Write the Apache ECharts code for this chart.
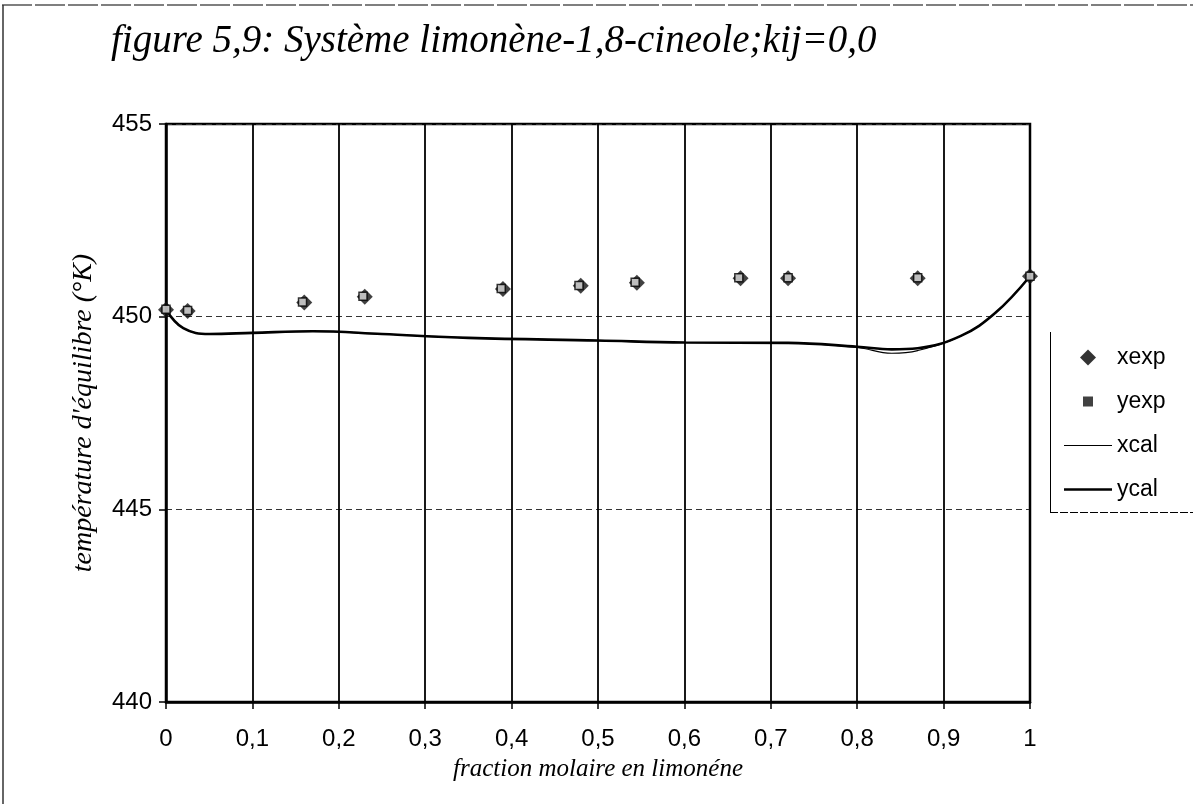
<!DOCTYPE html>
<html><head><meta charset="utf-8">
<script src="https://cdn.jsdelivr.net/npm/echarts@6/dist/echarts.min.js"></script>
<style>html,body{margin:0;padding:0;background:#fff}#c{width:1193px;height:804px}</style>
</head><body><div id="c"></div>
<script>
const titleText = "figure 5,9: Système limonène-1,8-cineole;kij=0,0";
const xName = "fraction molaire en limonéne";
const yName = "température d'équilibre (°K)";
const xexpX = [0, 0.025, 0.16, 0.23, 0.39, 0.48, 0.545, 0.665, 0.72, 0.87, 1.0];
const xexpY = [450.18, 450.15, 450.37, 450.52, 450.72, 450.8, 450.88, 451.0, 451.0, 451.0, 451.05];
const yexpX = [0, 0.025, 0.158, 0.228, 0.388, 0.478, 0.543, 0.663, 0.72, 0.87, 1.0];
const yexpY = [450.19, 450.16, 450.38, 450.53, 450.73, 450.81, 450.89, 451.01, 451.01, 451.01, 451.05];
const calX = [0, 0.02, 0.05, 0.1, 0.17, 0.25, 0.35, 0.5, 0.6, 0.72, 0.8, 0.84, 0.87, 0.92, 0.96, 1.0];
const xcalY = [450.18, 449.7, 449.55, 449.58, 449.62, 449.55, 449.45, 449.38, 449.33, 449.32, 449.2, 449.05, 449.12, 449.5, 450.1, 451.05];
const ycalY = [450.18, 449.7, 449.55, 449.58, 449.62, 449.55, 449.45, 449.38, 449.33, 449.32, 449.22, 449.15, 449.18, 449.5, 450.1, 451.05];
const pairs = (xs, ys) => xs.map((x, i) => [x, ys[i]]);

const chart = echarts.init(document.getElementById('c'));
chart.setOption({
  backgroundColor: '#fff',
  animation: false,
  title: {
    text: titleText, left: 106, top: 17,
    textStyle: {fontFamily: 'Liberation Serif', fontStyle: 'italic', fontWeight: 'normal', fontSize: 39, color: '#000'}
  },
  grid: {left: 166, right: 163, top: 124, bottom: 102, show: true, borderColor: '#000', borderWidth: 2.5, backgroundColor: 'transparent'},
  legend: {
    orient: 'vertical', left: 1050, top: 332, width: 140,
    padding: [14, 30, 10, 14], itemGap: 21, itemWidth: 48, itemHeight: 16,
    borderWidth: 0, backgroundColor: '#fff',
    textStyle: {fontFamily: 'Liberation Sans', fontSize: 23, color: '#000'},
    data: [
      {name: 'xexp', icon: 'path://M8,0 L16,8 L8,16 L0,8 Z', itemStyle: {color: '#000'}},
      {name: 'yexp', icon: 'path://M0,0 L0.01,0 L0.01,0.01 Z M16,16 L15.99,16 L15.99,15.99 Z M3,3 L13,3 L13,13 L3,13 Z',
        itemStyle: {color: '#111', borderWidth: 0}},
      {name: 'xcal', icon: 'path://M0,0 L48,0 L48,1 L0,1 Z'},
      {name: 'ycal', icon: 'path://M0,0 L48,0 L48,2.6 L0,2.6 Z'}
    ]
  },
  xAxis: {
    type: 'value', min: 0, max: 1, interval: 0.1,
    name: xName, nameLocation: 'middle', nameGap: 55,
    nameTextStyle: {fontFamily: 'Liberation Serif', fontStyle: 'italic', fontSize: 25, color: '#000'},
    axisLine: {show: true, lineStyle: {color: '#000', width: 2.5}},
    axisTick: {show: true, length: 7, lineStyle: {color: '#000', width: 1.5}},
    axisLabel: {margin: 25, fontFamily: 'Liberation Sans', fontSize: 24, color: '#000',
      formatter: v => (Math.round(v * 10) / 10).toString().replace('.', ',')},
    splitLine: {show: true, lineStyle: {color: '#000', width: 1.8, type: 'solid'}}
  },
  yAxis: {
    type: 'value', min: 440, max: 455, interval: 5,
    name: yName, nameLocation: 'middle', nameGap: 68, nameRotate: 90,
    nameTextStyle: {fontFamily: 'Liberation Serif', fontStyle: 'italic', fontSize: 28, color: '#000'},
    axisLine: {show: true, lineStyle: {color: '#000', width: 2.5}},
    axisTick: {show: true, length: 7, lineStyle: {color: '#000', width: 1.5}},
    axisLabel: {margin: 14, fontFamily: 'Liberation Sans', fontSize: 24, color: '#000'},
    splitLine: {show: true, lineStyle: {color: '#333', width: 1, type: [6, 4]}}
  },
  series: [
    {name: 'xcal', type: 'line', smooth: 0.4, symbol: 'none', data: pairs(calX, xcalY),
      lineStyle: {color: '#000', width: 1.2}, itemStyle: {color: '#000'}, z: 3},
    {name: 'ycal', type: 'line', smooth: 0.4, symbol: 'none', data: pairs(calX, ycalY),
      lineStyle: {color: '#000', width: 2.6}, itemStyle: {color: '#000'}, z: 3},
    {name: 'xexp', type: 'scatter', symbol: 'diamond', symbolSize: 16, data: pairs(xexpX, xexpY),
      itemStyle: {color: '#111'}, z: 4},
    {name: 'yexp', type: 'scatter', symbol: 'rect', symbolSize: 8, data: pairs(yexpX, yexpY),
      itemStyle: {color: '#ddd', borderColor: '#000', borderWidth: 1.5}, z: 5}
  ],
  graphic: [
    {type: 'line', shape: {x1: 2, y1: 5, x2: 1193, y2: 5}, style: {stroke: '#555', lineWidth: 1.5, lineDash: [30, 3]}},
    {type: 'line', shape: {x1: 3, y1: 5, x2: 3, y2: 804}, style: {stroke: '#333', lineWidth: 1.5}},
    {type: 'line', z: 100, shape: {x1: 1050.5, y1: 332, x2: 1050.5, y2: 512}, style: {stroke: '#000', lineWidth: 1}},
    {type: 'line', z: 100, shape: {x1: 1050, y1: 512.5, x2: 1193, y2: 512.5}, style: {stroke: '#000', lineWidth: 1, lineDash: [8, 2]}}
  ]
});
</script></body></html>
